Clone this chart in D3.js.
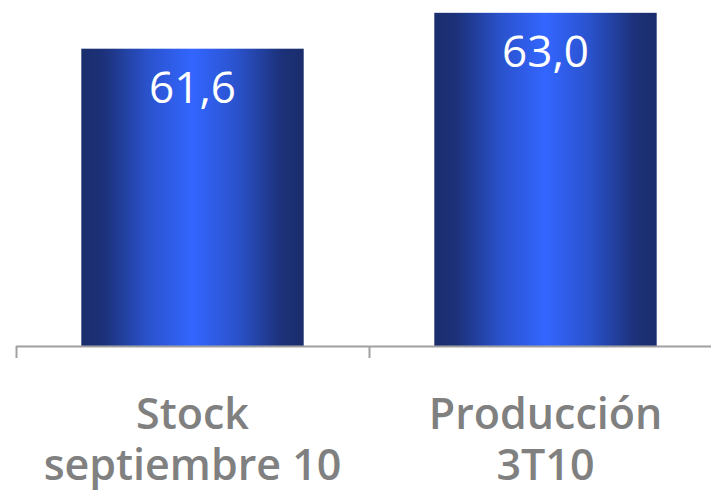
<!DOCTYPE html>
<html>
<head>
<meta charset="utf-8">
<script src="https://cdn.jsdelivr.net/npm/d3@7"></script>
<style>
  html, body { margin: 0; padding: 0; background: #fff; }
  svg { display: block; }
</style>
</head>
<body>
<div id="chart"></div>
<script>
// Categories (each label is split into two lines) and their values
const categories = ["Stock septiembre 10", "Producción 3T10"];
const labelLines = [["Stock", "septiembre 10"], ["Producción", "3T10"]];
const values = [61.6, 63.0];
const valueLabels = ["61,6", "63,0"];

const width = 711, height = 492;
const baseline = 346;

const svg = d3.select("#chart").append("svg")
  .attr("width", width)
  .attr("height", height);

// Horizontal gradient: dark navy edges, bright blue centre
const defs = svg.append("defs");
const grad = defs.append("linearGradient")
  .attr("id", "barGrad")
  .attr("x1", "0%").attr("x2", "100%")
  .attr("y1", "0%").attr("y2", "0%");
[
  [0, "#1a2d6c"],
  [0.1, "#1c3179"],
  [0.3, "#2a52cc"],
  [0.5, "#3366ff"],
  [0.7, "#2a52cc"],
  [0.9, "#1c3179"],
  [1, "#1a2d6c"]
].forEach(([o, c]) => grad.append("stop").attr("offset", o).attr("stop-color", c));

const x = d3.scaleBand()
  .domain(categories)
  .range([16, 722])
  .paddingInner(0.37)
  .paddingOuter(0.185);

const y = d3.scaleLinear()
  .domain([50, 63.5])
  .range([baseline, 0]);

// Bars
svg.append("g").selectAll("rect")
  .data(categories)
  .join("rect")
  .attr("x", d => x(d))
  .attr("width", x.bandwidth())
  .attr("y", (d, i) => y(values[i]))
  .attr("height", (d, i) => baseline - y(values[i]))
  .attr("fill", "url(#barGrad)");

// Value labels inside bars
svg.append("g").selectAll("text")
  .data(categories)
  .join("text")
  .attr("x", d => x(d) + x.bandwidth() / 2)
  .attr("y", (d, i) => y(values[i]) + 54)
  .attr("text-anchor", "middle")
  .attr("font-family", "'Open Sans', sans-serif")
  .attr("font-size", 44)
  .attr("fill", "#ffffff")
  .text((d, i) => valueLabels[i]);

// Category axis: baseline with ticks at band boundaries
const axis = svg.append("g");
const r0 = x.range()[0];
const step = x.step();
axis.append("line")
  .attr("x1", r0).attr("x2", x.range()[1])
  .attr("y1", baseline + 0.5).attr("y2", baseline + 0.5)
  .attr("stroke", "#a0a0a0").attr("stroke-width", 2);
d3.range(categories.length + 1).forEach(i => {
  const tx = r0 + i * step + 0.5;
  axis.append("line")
    .attr("x1", tx).attr("x2", tx)
    .attr("y1", baseline).attr("y2", baseline + 12)
    .attr("stroke", "#a0a0a0").attr("stroke-width", 2);
});

// Category labels
const lab = svg.append("g").selectAll("text")
  .data(categories)
  .join("text")
  .attr("x", d => x(d) + x.bandwidth() / 2)
  .attr("y", 429)
  .attr("text-anchor", "middle")
  .attr("font-family", "'Open Sans', sans-serif")
  .attr("font-weight", 600)
  .attr("font-size", 43)
  .attr("fill", "#808080");
lab.selectAll("tspan")
  .data((d, i) => labelLines[i])
  .join("tspan")
  .attr("x", function () { return d3.select(this.parentNode).attr("x"); })
  .attr("dy", (d, j) => j === 0 ? 0 : 51)
  .text(d => d);
</script>
</body>
</html>
